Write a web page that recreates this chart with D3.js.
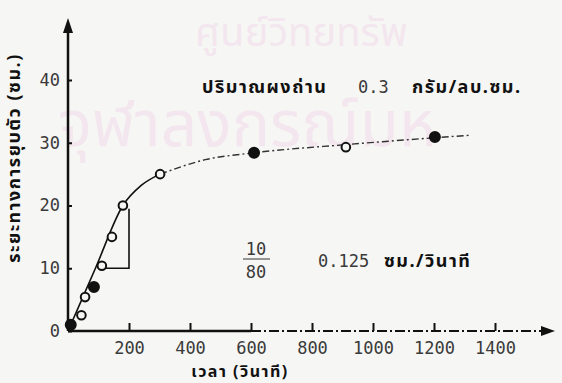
<!DOCTYPE html>
<html>
<head>
<meta charset="utf-8">
<script src="https://cdn.jsdelivr.net/npm/d3@7"></script>
<style>
  body { margin: 0; background: #f6f6f4; }
  svg { display: block; }
  .num { font-family: "DejaVu Sans Mono", "Liberation Mono", monospace; fill: #3a3a3a; }
  .thai { font-family: "Noto Sans Thai", "Noto Sans", "DejaVu Sans", sans-serif; fill: #111; font-weight: bold; letter-spacing: 1.5px; }
</style>
</head>
<body>
<svg id="chart"></svg>
<script>
// measured points (time in s, settling in cm)
const timeSec = [9, 44, 56, 85, 111, 144, 180, 302, 610, 911, 1203];
const depthCm = [1, 2.5, 5.4, 7, 10.4, 15, 20, 25, 28.4, 29.3, 30.9];
const isFilled = [true, false, false, true, false, false, false, false, true, false, true];

// hand drawn curve: solid part, then dash-dot part
const solidTime = [0, 90, 180, 240, 302];
const solidDepth = [0, 10, 20, 23.2, 25];
const dashTime = [302, 450, 610, 911, 1203, 1320];
const dashDepth = [25, 27.3, 28.4, 29.7, 30.8, 31.2];

// slope triangle 10/80
const triTime = [120, 200, 200];
const triDepth = [10, 10, 19.5];

const xTicks = [200, 400, 600, 800, 1000, 1200, 1400];
const yTicks = [0, 10, 20, 30, 40];

const width = 562, height = 383;
const svg = d3.select("#chart").attr("width", width).attr("height", height);

const x = d3.scaleLinear().domain([0, 1400]).range([68, 495]);
const y = d3.scaleLinear().domain([0, 40]).range([331, 80]);

// faint watermark
svg.append("text").attr("x", 195).attr("y", 46)
  .attr("font-family", "Noto Sans Thai, Noto Sans, sans-serif").attr("font-size", 40)
  .attr("fill", "#f4e6ee").text("ศูนย์วิทยทรัพ");
svg.append("text").attr("x", 58).attr("y", 146)
  .attr("font-family", "Noto Sans Thai, Noto Sans, sans-serif").attr("font-size", 64)
  .attr("fill", "#f4e6ee").text("จุฬาลงกรณ์มห");

// axes
const yAxis = d3.axisLeft(y).tickValues(yTicks).tickSizeInner(-4).tickSizeOuter(0).tickPadding(8);
const gy = svg.append("g").attr("transform", "translate(68,0)").call(yAxis);
gy.select(".domain").remove();
gy.selectAll("line").attr("stroke", "#111").attr("stroke-width", 2);
gy.selectAll("text").attr("class", "num").attr("font-size", 17);

const xAxis = d3.axisBottom(x).tickValues(xTicks).tickFormat(d3.format("d"))
  .tickSizeInner(-8).tickSizeOuter(0).tickPadding(11);
const gx = svg.append("g").attr("transform", "translate(0,331)").call(xAxis);
gx.select(".domain").remove();
gx.selectAll("line").attr("stroke", "#111").attr("stroke-width", 2);
gx.selectAll("text").attr("class", "num").attr("font-size", 17);

// axis lines with arrows
svg.append("line").attr("x1", 68).attr("y1", 331).attr("x2", 68).attr("y2", 30)
  .attr("stroke", "#111").attr("stroke-width", 2.5);
svg.append("path").attr("d", "M68,18 L63,33 L73,33 Z").attr("fill", "#111");
svg.append("line").attr("x1", 68).attr("y1", 331).attr("x2", x(600)).attr("y2", 331)
  .attr("stroke", "#111").attr("stroke-width", 2.5);
svg.append("line").attr("x1", x(600)).attr("y1", 331).attr("x2", 543).attr("y2", 331)
  .attr("stroke", "#111").attr("stroke-width", 2).attr("stroke-dasharray", "10,3,2,3");
svg.append("path").attr("d", "M555,331 L541,326 L541,336 Z").attr("fill", "#111");

// curve
const line = d3.line().x(d => x(d[0])).y(d => y(d[1])).curve(d3.curveMonotoneX);
svg.append("path").datum(d3.zip(solidTime, solidDepth)).attr("d", line)
  .attr("fill", "none").attr("stroke", "#111").attr("stroke-width", 1.6);
svg.append("path").datum(d3.zip(dashTime, dashDepth)).attr("d", line)
  .attr("fill", "none").attr("stroke", "#333").attr("stroke-width", 1.4)
  .attr("stroke-dasharray", "7,3,2,3");

// slope triangle
svg.append("path").datum(d3.zip(triTime, triDepth))
  .attr("d", d3.line().x(d => x(d[0])).y(d => y(d[1])))
  .attr("fill", "none").attr("stroke", "#111").attr("stroke-width", 1.6);

// points
svg.selectAll("circle.pt").data(d3.range(timeSec.length)).enter().append("circle")
  .attr("class", "pt")
  .attr("cx", i => x(timeSec[i])).attr("cy", i => y(depthCm[i]))
  .attr("r", i => isFilled[i] ? 5 : 4.3)
  .attr("fill", i => isFilled[i] ? "#111" : "#f6f6f4")
  .attr("stroke", "#111").attr("stroke-width", 2);

// labels
svg.append("text").attr("class", "thai").attr("font-size", 18)
  .attr("transform", "translate(20,158) rotate(-90)").attr("text-anchor", "middle")
  .text("ระยะทางการยุบตัว (ซม.)");
svg.append("text").attr("class", "thai").attr("font-size", 16)
  .attr("x", 240).attr("y", 377).attr("text-anchor", "middle")
  .text("เวลา (วินาที)");

svg.append("text").attr("class", "thai").attr("font-size", 18)
  .attr("x", 202).attr("y", 93).text("ปริมาณผงถ่าน");
svg.append("text").attr("class", "num").attr("font-size", 17)
  .attr("x", 358).attr("y", 93).text("0.3");
svg.append("text").attr("class", "thai").attr("font-size", 18)
  .attr("x", 412).attr("y", 93).text("กรัม/ลบ.ซม.");

svg.append("text").attr("class", "num").attr("font-size", 17)
  .attr("x", 256).attr("y", 255).attr("text-anchor", "middle").text("10");
svg.append("line").attr("x1", 243).attr("x2", 270).attr("y1", 259).attr("y2", 259)
  .attr("stroke", "#555").attr("stroke-width", 1.2);
svg.append("text").attr("class", "num").attr("font-size", 17)
  .attr("x", 256).attr("y", 278).attr("text-anchor", "middle").text("80");

svg.append("text").attr("class", "num").attr("font-size", 17)
  .attr("x", 318).attr("y", 267).text("0.125");
svg.append("text").attr("class", "thai").attr("font-size", 18)
  .attr("x", 384).attr("y", 267).text("ซม./วินาที");
</script>
</body>
</html>
